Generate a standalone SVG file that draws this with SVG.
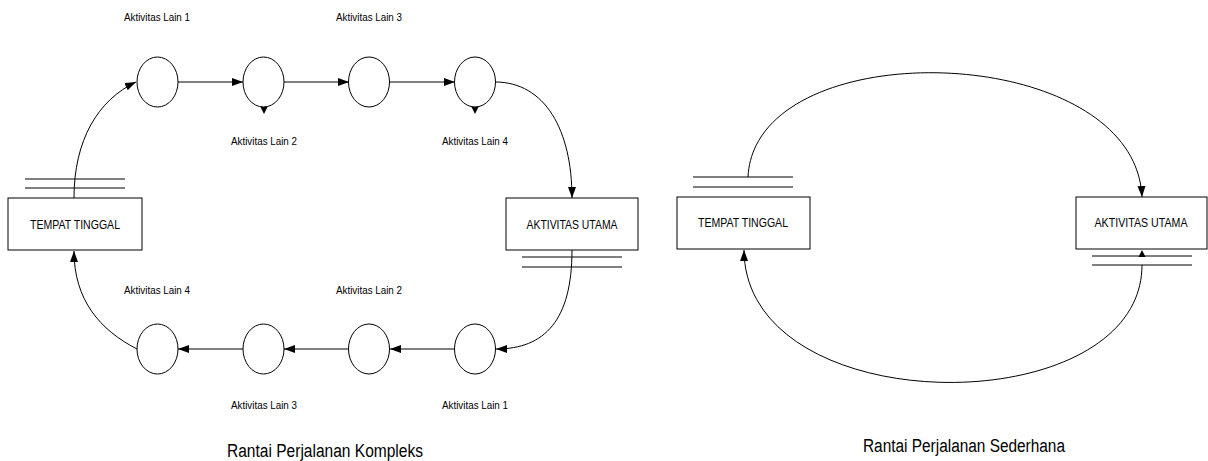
<svg xmlns="http://www.w3.org/2000/svg" width="1208" height="461" viewBox="0 0 1208 461">
<style>
.s{fill:none;stroke:#000;stroke-width:1}
.n{fill:#fff;stroke:#000;stroke-width:1}
.t{font-family:"Liberation Sans",Arial,sans-serif;fill:#000;text-anchor:middle}
.l{font-size:11px}
.b{font-size:12.5px}
.h{font-size:18px}
.k{fill:#000;stroke:none}
</style>
<defs>
<marker id="ah" markerUnits="userSpaceOnUse" markerWidth="12" markerHeight="10" refX="11" refY="4" orient="auto">
<path d="M0,0 L11,4 L0,8 Z" fill="#000"/>
</marker>
</defs>
<rect width="1208" height="461" fill="#fff"/>
<g id="connectors">
<path class="s" d="M74,198 C74,140 98,100 136,82" marker-end="url(#ah)"/>
<line class="s" x1="178" y1="82" x2="243" y2="82" marker-end="url(#ah)"/>
<line class="s" x1="284" y1="82" x2="349" y2="82" marker-end="url(#ah)"/>
<line class="s" x1="389" y1="82" x2="455" y2="82" marker-end="url(#ah)"/>
<path class="s" d="M495,82 C545,82 572,130 572,198" marker-end="url(#ah)"/>
<path class="s" d="M572,250 C572,320 545,349 496,349" marker-end="url(#ah)"/>
<line class="s" x1="455" y1="349" x2="390" y2="349" marker-end="url(#ah)"/>
<line class="s" x1="349" y1="349" x2="284" y2="349" marker-end="url(#ah)"/>
<line class="s" x1="243" y1="349" x2="178" y2="349" marker-end="url(#ah)"/>
<path class="s" d="M137,349 C100,330 74,300 74,251" marker-end="url(#ah)"/>
<polygon class="k" points="260,106 268,106 264,114"/>
<polygon class="k" points="471,106 479,106 475,114"/>
<path class="s" d="M748,177 C755,30 1135,40 1142,197" marker-end="url(#ah)"/>
<path class="s" d="M1142,265 C1142,424 745,424 744,250" marker-end="url(#ah)"/>
<polygon class="k" points="1142,250 1138.5,257 1145.5,257"/>
</g>
<g id="tempat-tinggal-1">
<line class="s" x1="25" y1="179" x2="125" y2="179"/>
<line class="s" x1="25" y1="188" x2="125" y2="188"/>
<rect class="n" x="8" y="198" width="134" height="52"/>
<text class="t b" x="75" y="229" textLength="90" lengthAdjust="spacingAndGlyphs">TEMPAT TINGGAL</text>
</g>
<g id="aktivitas-utama-1">
<rect class="n" x="506" y="198" width="132" height="52"/>
<line class="s" x1="522" y1="257" x2="622" y2="257"/>
<line class="s" x1="522" y1="267" x2="622" y2="267"/>
<text class="t b" x="572" y="229" textLength="91" lengthAdjust="spacingAndGlyphs">AKTIVITAS UTAMA</text>
</g>
<g id="lain1-top"><ellipse class="n" cx="157.5" cy="82" rx="20.5" ry="25"/><text class="t l" x="157" y="21" textLength="66" lengthAdjust="spacingAndGlyphs">Aktivitas Lain 1</text></g>
<g id="lain2-top"><ellipse class="n" cx="263.5" cy="82" rx="20.5" ry="25"/><text class="t l" x="264" y="145" textLength="66" lengthAdjust="spacingAndGlyphs">Aktivitas Lain 2</text></g>
<g id="lain3-top"><ellipse class="n" cx="369" cy="82" rx="20.5" ry="25"/><text class="t l" x="369" y="21" textLength="66" lengthAdjust="spacingAndGlyphs">Aktivitas Lain 3</text></g>
<g id="lain4-top"><ellipse class="n" cx="475" cy="82" rx="20.5" ry="25"/><text class="t l" x="475" y="145" textLength="66" lengthAdjust="spacingAndGlyphs">Aktivitas Lain 4</text></g>
<g id="lain4-bot"><ellipse class="n" cx="157.5" cy="349" rx="20.5" ry="25"/><text class="t l" x="157" y="294" textLength="66" lengthAdjust="spacingAndGlyphs">Aktivitas Lain 4</text></g>
<g id="lain3-bot"><ellipse class="n" cx="263.5" cy="349" rx="20.5" ry="25"/><text class="t l" x="264" y="409" textLength="66" lengthAdjust="spacingAndGlyphs">Aktivitas Lain 3</text></g>
<g id="lain2-bot"><ellipse class="n" cx="369" cy="349" rx="20.5" ry="25"/><text class="t l" x="369" y="294" textLength="66" lengthAdjust="spacingAndGlyphs">Aktivitas Lain 2</text></g>
<g id="lain1-bot"><ellipse class="n" cx="475" cy="349" rx="20.5" ry="25"/><text class="t l" x="475" y="409" textLength="66" lengthAdjust="spacingAndGlyphs">Aktivitas Lain 1</text></g>
<g id="tempat-tinggal-2">
<line class="s" x1="693" y1="177" x2="793" y2="177"/>
<line class="s" x1="693" y1="187" x2="793" y2="187"/>
<rect class="n" x="677" y="197" width="133" height="52"/>
<text class="t b" x="743" y="227" textLength="90" lengthAdjust="spacingAndGlyphs">TEMPAT TINGGAL</text>
</g>
<g id="aktivitas-utama-2">
<rect class="n" x="1076" y="197" width="131" height="52"/>
<line class="s" x1="1092" y1="256" x2="1192" y2="256"/>
<line class="s" x1="1092" y1="265" x2="1192" y2="265"/>
<text class="t b" x="1141" y="227" textLength="93" lengthAdjust="spacingAndGlyphs">AKTIVITAS UTAMA</text>
</g>
<text class="t h" x="325" y="457" textLength="196" lengthAdjust="spacingAndGlyphs">Rantai Perjalanan Kompleks</text>
<text class="t h" x="964" y="452" textLength="202" lengthAdjust="spacingAndGlyphs">Rantai Perjalanan Sederhana</text>
</svg>
